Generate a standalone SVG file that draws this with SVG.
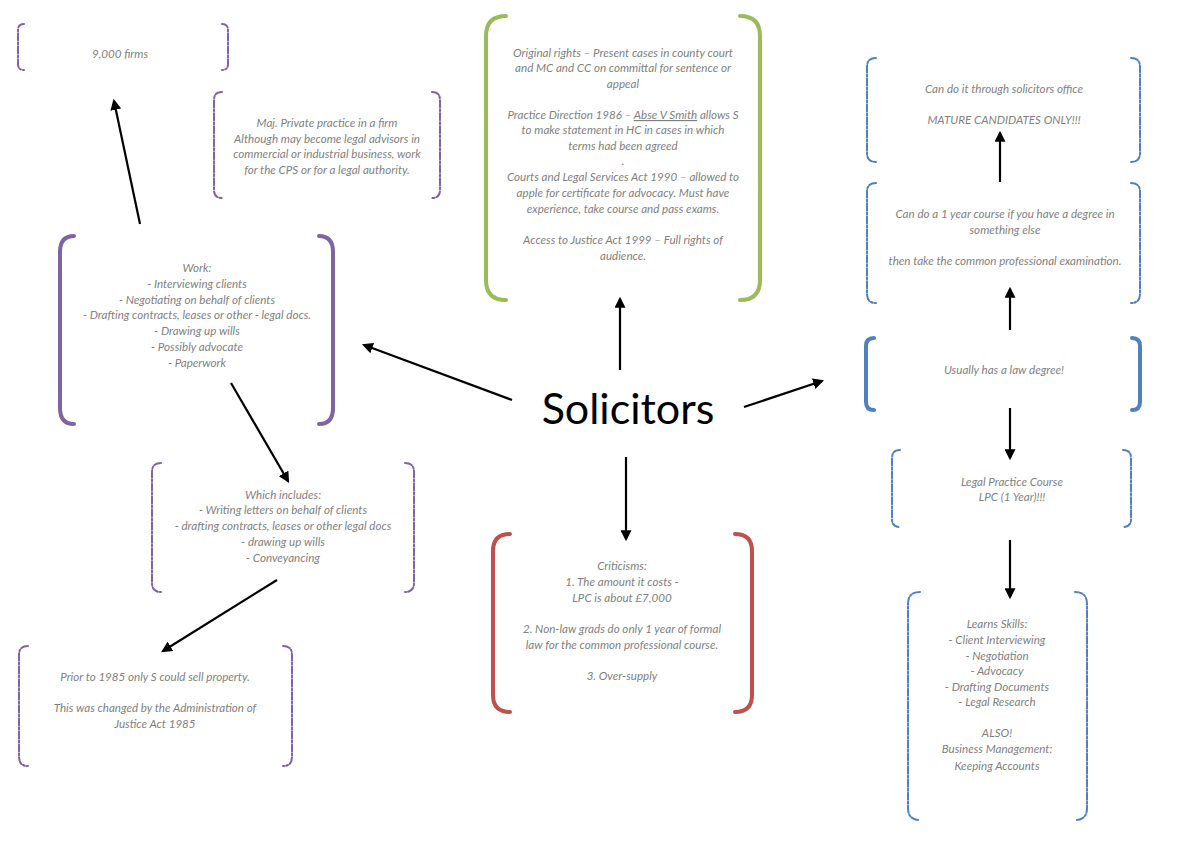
<svg xmlns="http://www.w3.org/2000/svg" width="1200" height="848" viewBox="0 0 1200 848">
<style>
.t{font-family:Lato,"Open Sans",sans-serif;font-style:italic;font-size:11.6px;fill:#7f7f7f;text-anchor:middle}
.b{fill:none;stroke-linecap:round}
.thin{stroke-width:2;stroke-dasharray:7 2 2 2}
.thick{stroke-width:4}
.pu{stroke:#8064A2}.gr{stroke:#9BBB59}.re{stroke:#C0504D}.bl{stroke:#4F81BD}
.c{stroke:#000;stroke-width:2.2;fill:none;marker-end:url(#a)}
</style>
<defs>
<marker id="a" viewBox="0 0 10 10" refX="8" refY="5" markerWidth="5" markerHeight="5" orient="auto"><path d="M0,0L10,5L0,10z" fill="#000"/></marker>
</defs>
<rect width="1200" height="848" fill="#fff"/>
<g id="n1"><path class="b pu thin" d="M24,24Q18,24 18,30V64Q18,70 24,70M222,24Q228,24 228,30V64Q228,70 222,70"/><text class="t" x="120" y="58">9,000 firms</text></g>
<g id="n2"><path class="b pu thin" d="M222,92Q214,92 214,100V190Q214,198 222,198M432,92Q440,92 440,100V190Q440,198 432,198"/><text class="t" x="327"><tspan x="327" y="127">Maj. Private practice in a firm</tspan><tspan x="327" y="143">Although may become legal advisors in</tspan><tspan x="327" y="158">commercial or industrial business, work</tspan><tspan x="327" y="174">for the CPS or for a legal authority.</tspan></text></g>
<g id="n3"><path class="b pu thick" d="M74,236Q60,236 60,252V408Q60,424 74,424M319,236Q333,236 333,252V408Q333,424 319,424"/><text class="t"><tspan x="197" y="272">Work:</tspan><tspan x="197" y="288">- Interviewing clients</tspan><tspan x="197" y="304">- Negotiating on behalf of clients</tspan><tspan x="197" y="319">- Drafting contracts, leases or other - legal docs.</tspan><tspan x="197" y="335">- Drawing up wills</tspan><tspan x="197" y="351">- Possibly advocate</tspan><tspan x="197" y="367">- Paperwork</tspan></text></g>
<g id="n4"><path class="b pu thin" d="M161,463Q152,463 152,472V583Q152,592 161,592M405,463Q414,463 414,472V583Q414,592 405,592"/><text class="t"><tspan x="283" y="499">Which includes:</tspan><tspan x="283" y="514">- Writing letters on behalf of clients</tspan><tspan x="283" y="530">- drafting contracts, leases or other legal docs</tspan><tspan x="283" y="546">- drawing up wills</tspan><tspan x="283" y="562">- Conveyancing</tspan></text></g>
<g id="n5"><path class="b pu thin" d="M28,646Q19,646 19,655V757Q19,766 28,766M283,646Q292,646 292,655V757Q292,766 283,766"/><text class="t"><tspan x="155" y="681">Prior to 1985 only S could sell property.</tspan><tspan x="155" y="712">This was changed by the Administration of</tspan><tspan x="155" y="728">Justice Act 1985</tspan></text></g>
<g id="n6"><path class="b gr thick" d="M506,16Q486,16 486,36V280Q486,300 506,300M740,16Q760,16 760,36V280Q760,300 740,300"/><text class="t"><tspan x="623" y="57">Original rights – Present cases in county court</tspan><tspan x="623" y="72">and MC and CC on committal for sentence or</tspan><tspan x="623" y="88">appeal</tspan><tspan x="623" y="119">Practice Direction 1986 – <tspan text-decoration="underline">Abse V Smith</tspan> allows S</tspan><tspan x="623" y="134">to make statement in HC in cases in which</tspan><tspan x="623" y="150">terms had been agreed</tspan><tspan x="623" y="165">.</tspan><tspan x="623" y="181">Courts and Legal Services Act 1990 – allowed to</tspan><tspan x="623" y="197">apple for certificate for advocacy. Must have</tspan><tspan x="623" y="213">experience, take course and pass exams.</tspan><tspan x="623" y="244">Access to Justice Act 1999 – Full rights of</tspan><tspan x="623" y="260">audience.</tspan></text></g>
<g id="n7"><path class="b re thick" d="M510,534Q493,534 493,551V695Q493,712 510,712M735,534Q752,534 752,551V695Q752,712 735,712"/><text class="t"><tspan x="622" y="570">Criticisms:</tspan><tspan x="622" y="586">1. The amount it costs -</tspan><tspan x="622" y="602">LPC is about £7,000</tspan><tspan x="622" y="633">2. Non-law grads do only 1 year of formal</tspan><tspan x="622" y="649">law for the common professional course.</tspan><tspan x="622" y="680">3. Over-supply</tspan></text></g>
<g id="n8"><text x="628" y="424" font-family="Lato,'Open Sans',sans-serif" font-size="43" text-anchor="middle" fill="#000">Solicitors</text></g>
<g id="n9"><path class="b bl thick" d="M874,338Q866,338 866,346V402Q866,410 874,410M1132,338Q1140,338 1140,346V402Q1140,410 1132,410"/><text class="t" x="1004" y="374">Usually has a law degree!</text></g>
<g id="n10"><path class="b bl thin" d="M876,183Q867,183 867,192V294Q867,303 876,303M1131,183Q1140,183 1140,192V294Q1140,303 1131,303"/><text class="t"><tspan x="1005" y="218">Can do a 1 year course if you have a degree in</tspan><tspan x="1005" y="234">something else</tspan><tspan x="1005" y="265">then take the common professional examination.</tspan></text></g>
<g id="n11"><path class="b bl thin" d="M876,58Q867,58 867,67V153Q867,162 876,162M1131,58Q1140,58 1140,67V153Q1140,162 1131,162"/><text class="t"><tspan x="1004" y="93">Can do it through solicitors office</tspan><tspan x="1004" y="124">MATURE CANDIDATES ONLY!!!</tspan></text></g>
<g id="n12"><path class="b bl thin" d="M900,450Q892,450 892,458V519Q892,527 900,527M1123,450Q1131,450 1131,458V519Q1131,527 1123,527"/><text class="t"><tspan x="1012" y="486">Legal Practice Course</tspan><tspan x="1012" y="501">LPC (1 Year)!!!</tspan></text></g>
<g id="n13"><path class="b bl thin" d="M920,592Q908,592 908,604V808Q908,820 920,820M1075,592Q1087,592 1087,604V808Q1087,820 1075,820"/><text class="t"><tspan x="997" y="628">Learns Skills:</tspan><tspan x="997" y="644">- Client Interviewing</tspan><tspan x="997" y="660">- Negotiation</tspan><tspan x="997" y="675">- Advocacy</tspan><tspan x="997" y="691">- Drafting Documents</tspan><tspan x="997" y="706">- Legal Research</tspan><tspan x="997" y="737">ALSO!</tspan><tspan x="997" y="753">Business Management:</tspan><tspan x="997" y="770">Keeping Accounts</tspan></text></g>
<g id="connectors">
<path class="c" d="M140,224L114,101"/>
<path class="c" d="M512,400L364,345"/>
<path class="c" d="M231,383L288,481"/>
<path class="c" d="M277,580L163,651"/>
<path class="c" d="M620,370L620,299"/>
<path class="c" d="M626,457L626,539"/>
<path class="c" d="M744,407L822,381"/>
<path class="c" d="M1010,330L1010,289"/>
<path class="c" d="M1000,182L1000,133"/>
<path class="c" d="M1010,408L1010,458"/>
<path class="c" d="M1010,540L1010,597"/>
</g>
</svg>
